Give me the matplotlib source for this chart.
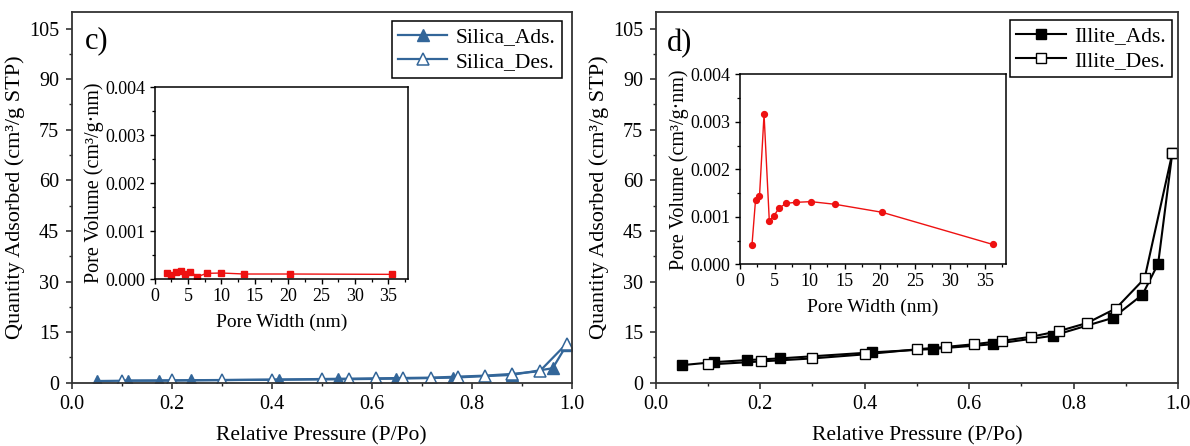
import matplotlib
matplotlib.use("Agg")
import matplotlib.pyplot as plt
from matplotlib.ticker import MultipleLocator, FormatStrFormatter

plt.rcParams['font.family'] = ['Liberation Serif', 'DejaVu Serif']
plt.rcParams['mathtext.fontset'] = 'stix'

# ---- Silica isotherm ----
silica_ads_p = [0.051, 0.113, 0.175, 0.239, 0.415, 0.532, 0.649, 0.762, 0.880, 0.962, 0.990]
silica_ads_q = [0.5, 0.6, 0.6, 0.7, 0.9, 1.0, 1.2, 1.5, 2.3, 4.3, 11.2]
silica_des_p = [0.990, 0.936, 0.880, 0.827, 0.772, 0.718, 0.663, 0.609, 0.555, 0.500, 0.400, 0.300, 0.200, 0.100]
silica_des_q = [11.6, 3.4, 2.6, 2.1, 1.8, 1.5, 1.4, 1.3, 1.2, 1.1, 0.9, 0.8, 0.7, 0.6]

# ---- Illite isotherm ----
illite_ads_p = [0.050, 0.112, 0.174, 0.238, 0.415, 0.531, 0.645, 0.760, 0.875, 0.932, 0.962, 0.989]
illite_ads_q = [5.2, 6.1, 6.7, 7.2, 9.0, 10.0, 11.4, 13.9, 19.2, 26.1, 35.3, 68.0]
illite_des_p = [0.989, 0.936, 0.881, 0.826, 0.772, 0.718, 0.663, 0.609, 0.555, 0.500, 0.400, 0.300, 0.201, 0.101]
illite_des_q = [68.0, 30.9, 22.0, 17.7, 15.3, 13.6, 12.4, 11.4, 10.6, 9.9, 8.4, 7.2, 6.3, 5.4]

# ---- Pore size distributions ----
silica_psd_w = [1.9, 2.5, 3.2, 3.9, 4.6, 5.3, 6.4, 7.8, 10.0, 13.4, 20.3, 35.6]
silica_psd_v = [0.000132, 0.000083, 0.000146, 0.000174, 0.000111, 0.000153,
                0.000049, 0.000118, 0.000125, 0.000104, 0.000104, 0.000097]
illite_psd_w = [1.78, 2.29, 2.85, 3.5, 4.25, 4.86, 5.65, 6.68, 8.08, 10.19, 13.64, 20.33, 36.1]
illite_psd_v = [0.000407, 0.001361, 0.001432, 0.003158, 0.000912, 0.001011, 0.001186,
                0.001284, 0.001305, 0.001319, 0.001263, 0.001095, 0.000419]

BLUE = "#336699"
RED = "#ee1111"

W, H = 1190, 446
fig = plt.figure(figsize=(W / 100, H / 100), dpi=100)


def px_axes(x0, y0, x1, y1):
    """Axes from pixel box (top-left origin)."""
    return fig.add_axes([x0 / W, 1 - y1 / H, (x1 - x0) / W, (y1 - y0) / H])


def style_main(ax):
    ax.set_xlim(0, 1.0)
    ax.set_ylim(0, 110)
    ax.xaxis.set_major_locator(MultipleLocator(0.2))
    ax.xaxis.set_minor_locator(MultipleLocator(0.1))
    ax.yaxis.set_major_locator(MultipleLocator(15))
    ax.yaxis.set_minor_locator(MultipleLocator(7.5))
    ax.xaxis.set_major_formatter(FormatStrFormatter('%.1f'))
    ax.tick_params(which='major', direction='out', length=4, width=1.1,
                   labelsize=14.5, pad=5, colors='#222222', labelcolor='black')
    ax.tick_params(which='minor', direction='out', length=2.5, width=1.0, colors='#222222')
    for s in ax.spines.values():
        s.set_linewidth(1.3)
        s.set_color('#333333')
    ax.set_xlabel('Relative Pressure (P/Po)', fontsize=15.5, labelpad=9)
    ax.set_ylabel('Quantity Adsorbed (cm³/g STP)', fontsize=16, labelpad=3)


def style_inset(ax):
    ax.set_xlim(0, 38)
    ax.set_ylim(0, 0.004)
    ax.xaxis.set_major_locator(MultipleLocator(5))
    ax.xaxis.set_minor_locator(MultipleLocator(2.5))
    ax.yaxis.set_major_locator(MultipleLocator(0.001))
    ax.yaxis.set_minor_locator(MultipleLocator(0.0005))
    ax.yaxis.set_major_formatter(FormatStrFormatter('%.3f'))
    ax.tick_params(which='major', direction='out', length=3.5, width=1.0,
                   labelsize=13, pad=3)
    ax.tick_params(which='minor', direction='out', length=2, width=0.9)
    for s in ax.spines.values():
        s.set_linewidth(1.1)
    ax.set_xlabel('Pore Width (nm)', fontsize=14, labelpad=6)
    ax.set_ylabel('Pore Volume (cm³/g·nm)', fontsize=14.5, labelpad=1)


def add_legend(ax, bbox):
    leg = ax.legend(loc='upper right', bbox_to_anchor=bbox, bbox_transform=fig.transFigure,
                    fontsize=15.5, frameon=True, fancybox=False, framealpha=1,
                    edgecolor='black', handlelength=2.3, handletextpad=0.4,
                    borderpad=0.3, labelspacing=0.2, borderaxespad=0)
    leg.get_frame().set_linewidth(1.1)


# ---------- panel c ----------
ax1 = px_axes(71.7, 11.7, 571.7, 382.7)
ax1.plot(silica_ads_p, silica_ads_q, '-', color=BLUE, lw=1.6, marker='^', ms=8,
         mfc=BLUE, mec=BLUE, label='Silica_Ads.')
ax1.plot(silica_des_p, silica_des_q, '-', color=BLUE, lw=1.6, marker='^', ms=8,
         mfc='white', mec=BLUE, mew=1.1, label='Silica_Des.')
style_main(ax1)
add_legend(ax1, (562.3 / W, 1 - 21 / H))
ax1.text(0.026, 0.922, 'c)', transform=ax1.transAxes, fontsize=22, va='center', ha='left')

in1 = px_axes(154.7, 87.3, 408.3, 279.0)
in1.plot(silica_psd_w, silica_psd_v, '-', color=RED, lw=1.0, marker='s', ms=3.8,
         mfc=RED, mec=RED)
style_inset(in1)

# ---------- panel d ----------
ax2 = px_axes(655.7, 11.7, 1178.0, 382.7)
ax2.plot(illite_ads_p, illite_ads_q, '-', color='black', lw=1.5, marker='s', ms=6.5,
         mfc='black', mec='black', label='Illite_Ads.')
ax2.plot(illite_des_p, illite_des_q, '-', color='black', lw=1.5, marker='s', ms=6.5,
         mfc='white', mec='black', mew=1.0, label='Illite_Des.')
style_main(ax2)
add_legend(ax2, (1172.3 / W, 1 - 20 / H))
ax2.text(0.021, 0.914, 'd)', transform=ax2.transAxes, fontsize=22, va='center', ha='left')

in2 = px_axes(739.5, 74.3, 1006.0, 264.3)
in2.plot(illite_psd_w, illite_psd_v, '-', color=RED, lw=1.0, marker='o', ms=4.2,
         mfc=RED, mec=RED)
style_inset(in2)

fig.savefig('out.png', dpi=100)
